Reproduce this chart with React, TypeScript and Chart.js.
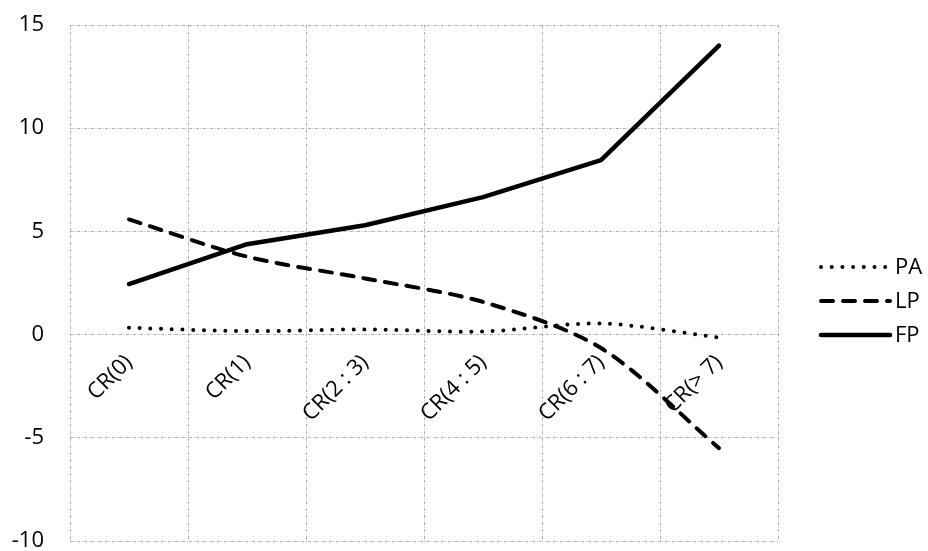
import React, { useEffect, useRef } from 'react';
import { Chart, registerables } from 'chart.js';

Chart.register(...registerables);

const categories = ['CR(0)', 'CR(1)', 'CR(2 : 3)', 'CR(4 : 5)', 'CR(6 : 7)', 'CR(> 7)'];
const paValues = [0.33, 0.17, 0.25, 0.15, 0.54, -0.14];
const lpValues = [5.58, 3.78, 2.72, 1.58, -0.65, -5.5];
const fpValues = [2.45, 4.38, 5.3, 6.66, 8.45, 14.0];
const yMin = -10;
const yMax = 15;
const yStep = 5;

const FONT = '"Open Sans", "DejaVu Sans", sans-serif';
const FONT_SIZE = 22;

const sideLegend = {
  id: 'sideLegend',
  afterDraw(chart: any) {
    const ctx = chart.ctx;
    const area = chart.chartArea;
    const x0 = area.right + 43;
    const x1 = area.right + 112;
    const mid = (area.top + area.bottom) / 2 + 18;
    const step = 34;
    chart.data.datasets.forEach((ds: any, i: number) => {
      const y = mid + (i - 1) * step;
      ctx.save();
      ctx.strokeStyle = ds.borderColor;
      ctx.lineWidth = ds.borderWidth;
      ctx.lineCap = ds.borderCapStyle || 'butt';
      ctx.setLineDash(ds.borderDash || []);
      ctx.beginPath();
      ctx.moveTo(x0, y);
      ctx.lineTo(x1, y);
      ctx.stroke();
      ctx.setLineDash([]);
      ctx.fillStyle = '#000';
      ctx.font = `${FONT_SIZE}px ${FONT}`;
      ctx.textBaseline = 'middle';
      ctx.textAlign = 'left';
      ctx.fillText(ds.label, x1 + 5, y + 1);
      ctx.restore();
    });
  },
};

export default function App() {
  const ref = useRef<HTMLCanvasElement | null>(null);

  useEffect(() => {
    if (!ref.current) return;
    const gridColor = '#b0b0b0';
    const gridDash = [3, 1.5, 1, 1.5];
    const chart = new Chart(ref.current, {
      type: 'line',
      data: {
        labels: categories,
        datasets: [
          {
            label: 'PA',
            data: paValues,
            borderColor: '#000',
            borderWidth: 4,
            borderDash: [0, 10.7],
            borderCapStyle: 'round',
            pointRadius: 0,
            tension: 0.3,
            fill: false,
          },
          {
            label: 'LP',
            data: lpValues,
            borderColor: '#000',
            borderWidth: 4,
            borderDash: [12, 10],
            borderCapStyle: 'round',
            pointRadius: 0,
            tension: 0.3,
            fill: false,
          },
          {
            label: 'FP',
            data: fpValues,
            borderColor: '#000',
            borderWidth: 4.5,
            borderCapStyle: 'round',
            borderJoinStyle: 'round',
            pointRadius: 0,
            tension: 0,
            fill: false,
          },
        ],
      },
      options: {
        responsive: false,
        animation: false,
        events: [],
        layout: { padding: { top: 25, right: 150, bottom: 10, left: 0 } },
        plugins: {
          legend: { display: false },
          tooltip: { enabled: false },
          title: { display: false },
        },
        scales: {
          x: {
            type: 'category',
            position: { y: 0 } as any,
            offset: true,
            grid: {
              offset: true,
              color: gridColor,
              lineWidth: 1,
              drawTicks: false,
            },
            border: { display: false, dash: gridDash },
            ticks: {
              minRotation: 45,
              maxRotation: 45,
              autoSkip: false,
              padding: 15,
              color: '#000',
              font: { family: FONT, size: FONT_SIZE },
            },
          },
          y: {
            min: yMin,
            max: yMax,
            grid: {
              color: gridColor,
              lineWidth: 1,
              drawTicks: false,
            },
            border: { display: false, dash: gridDash },
            ticks: {
              stepSize: yStep,
              padding: 26,
              color: '#000',
              font: { family: FONT, size: FONT_SIZE },
            },
            afterFit(scale: any) {
              scale.width = 70;
              scale.paddingTop = 0;
              scale.paddingBottom = 0;
            },
          },
        },
      },
      plugins: [sideLegend],
    });
    return () => chart.destroy();
  }, []);

  return (
    <div style={{ position: 'absolute', left: 0, top: 0, width: 928, height: 551, background: '#fff' }}>
      <canvas ref={ref} width={928} height={551} style={{ display: 'block' }} />
    </div>
  );
}
